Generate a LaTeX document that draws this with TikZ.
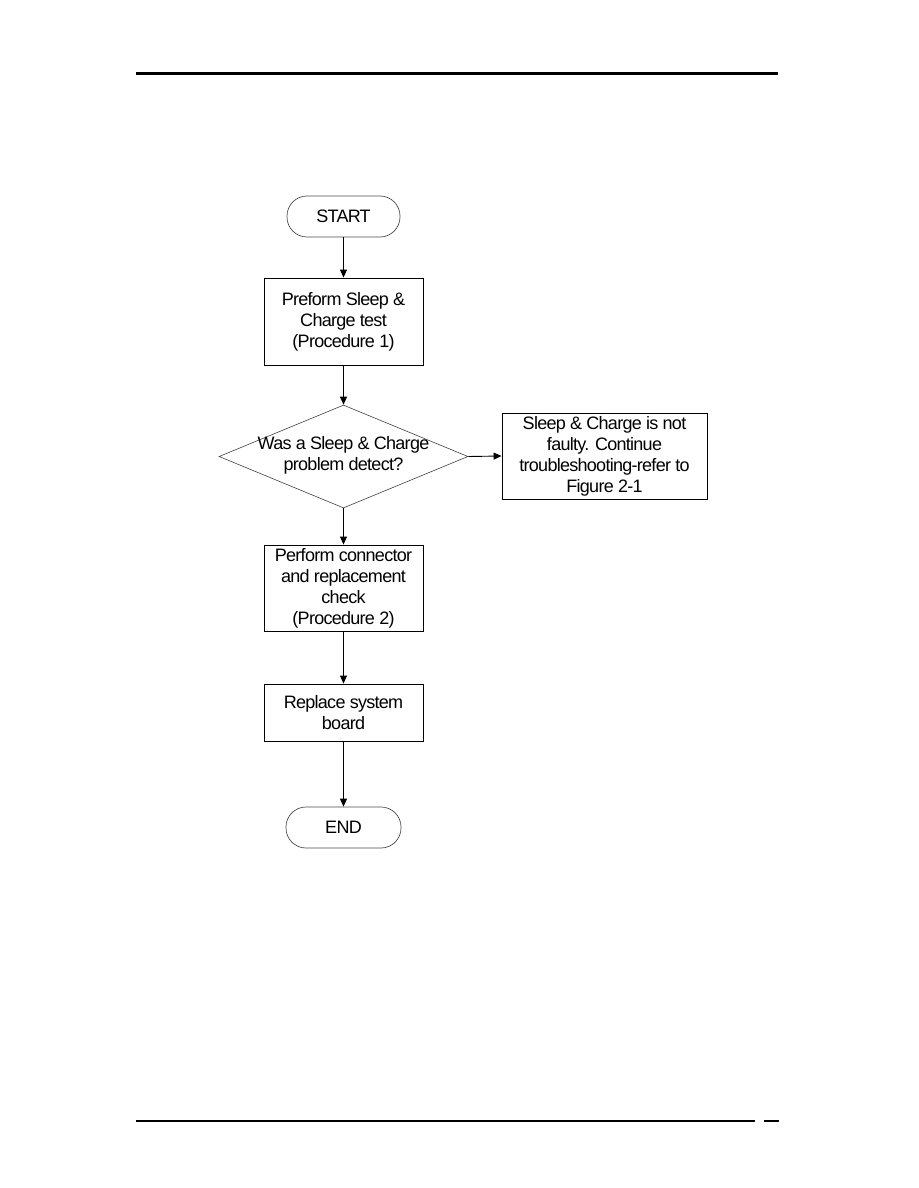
\documentclass[tikz,border=0pt]{standalone}
\usepackage{fontspec}
\setmainfont[LetterSpace=-4]{Liberation Sans}
\usetikzlibrary{arrows.meta,shapes.geometric}
\begin{document}
\begin{tikzpicture}[x=1pt,y=-1pt,
  txt/.style={align=center, inner sep=0pt, font=\fontsize{18}{21}\selectfont},
  box/.style={txt, draw, line width=0.9pt},
  term/.style={txt, draw=black!70, line width=0.7pt, rounded corners=20pt, minimum height=41pt},
  arr/.style={line width=0.9pt, -{Triangle[length=8pt,width=7pt]}}]
\useasboundingbox (0,0) rectangle (918,1188);
\draw[line width=3pt] (136,74) -- (778,74);
\draw[line width=2pt] (136,1121) -- (755,1121);
\draw[line width=2pt] (764,1121) -- (779,1121);

\node[term, minimum width=113pt] (start) at (343.5,216.5) {START};
\node[box, minimum width=159pt, minimum height=87pt] (b1) at (343.5,321.5) {Preform Sleep \&\\Charge test\\(Procedure 1)};
\node[diamond, draw=black!75, line width=0.6pt, inner sep=0pt, minimum width=249pt, minimum height=103pt] (dec) at (343.5,456.5) {};
\node[txt] (dectext) at (343.5,455) {Was a Sleep \& Charge\\problem detect?};
\node[box, minimum width=205pt, minimum height=86pt] (side) at (604.5,456) {Sleep \& Charge is not\\faulty. Continue\\troubleshooting-refer to\\Figure 2-1};
\node[box, minimum width=159pt, minimum height=86pt] (b3) at (343.5,588) {Perform connector\\and replacement\\check\\(Procedure 2)};
\node[box, minimum width=159pt, minimum height=57pt] (b4) at (343.5,712.5) {Replace system\\board};
\node[term, minimum width=115pt] (end) at (343.5,827.5) {END};

\draw[arr] (start.south) -- (b1.north);
\draw[arr] (b1.south) -- (dec.north);
\draw[arr] (dec.east) -- (side.west);
\draw[arr] (dec.south) -- (b3.north);
\draw[arr] (b3.south) -- (b4.north);
\draw[arr] (b4.south) -- (end.north);
\end{tikzpicture}
\end{document}
